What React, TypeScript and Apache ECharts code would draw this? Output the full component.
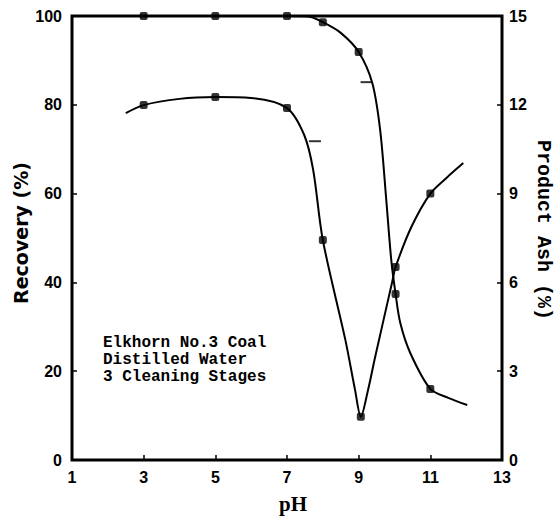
import React, { useEffect, useRef } from "react";
import * as echarts from "echarts";

// Recovery (%) curve, left axis
const recoveryLinePH = [2.5, 3, 5, 7, 7.6, 8, 8.5, 9, 9.38, 9.6, 9.77, 9.91, 10.03, 10.16, 10.44, 11, 11.5, 12.03];
const recoveryLineVal = [100, 100, 100, 100, 99.9, 98.6, 96.2, 91.9, 84.9, 74.3, 58.6, 45.0, 37.4, 30.9, 24.1, 16.0, 14.0, 12.4];
const recoveryPointPH = [3, 5, 7, 8, 9, 10.03, 11];
const recoveryPointVal = [100, 100, 100, 98.6, 91.9, 37.4, 16.0];

// Product ash (%) curve, right axis
const ashLinePH = [2.5, 3, 4, 5, 6, 7, 7.48, 7.73, 8, 8.63, 8.9, 9.06, 9.26, 9.46, 9.94, 10.03, 10.47, 11, 11.45, 11.92];
const ashLineVal = [11.72, 11.99, 12.2, 12.26, 12.23, 11.89, 10.98, 9.8, 7.43, 4.05, 2.36, 1.46, 2.36, 3.48, 6.04, 6.52, 7.87, 9.0, 9.53, 10.03];
const ashPointPH = [3, 5, 7, 8, 9.06, 10.03, 11];
const ashPointVal = [11.99, 12.26, 11.89, 7.43, 1.46, 6.52, 9.0];

// short dash marks (left-axis scale)
const dashPH = [7.78, 9.22];
const dashVal = [71.8, 85.1];

const annotation = ["Elkhorn No.3 Coal", "Distilled Water", "3 Cleaning Stages"];

const zip = (a: number[], b: number[]) => a.map((v, i) => [v, b[i]]);

export default function App() {
  const ref = useRef<HTMLDivElement>(null);
  useEffect(() => {
    if (!ref.current) return;
    const chart = echarts.init(ref.current, null, { renderer: "svg" });
    const labelFont = {
      color: "#000",
      fontFamily: "Liberation Sans",
      fontWeight: "bold" as const,
      fontSize: 16,
    };
    const tick = { show: true, inside: true, length: 5, lineStyle: { color: "#000", width: 1.5 } };
    const lineBase = {
      type: "line" as const,
      smooth: 0.3,
      showSymbol: false,
      lineStyle: { color: "#000", width: 2 },
      z: 3,
    };
    chart.setOption({
      animation: false,
      backgroundColor: "#fff",
      grid: {
        left: 72,
        right: 57,
        top: 16,
        bottom: 63,
        show: true,
        borderColor: "#000",
        borderWidth: 3,
        backgroundColor: "transparent",
      },
      xAxis: {
        type: "value",
        min: 1,
        max: 13,
        interval: 2,
        axisLine: { show: false },
        axisTick: tick,
        axisLabel: { ...labelFont, margin: 9 },
        splitLine: { show: false },
      },
      yAxis: [
        {
          type: "value",
          position: "left",
          min: 0,
          max: 100,
          interval: 20,
          axisLine: { show: false },
          axisTick: tick,
          axisLabel: { ...labelFont, margin: 10 },
          splitLine: { show: false },
        },
        {
          type: "value",
          position: "right",
          min: 0,
          max: 15,
          interval: 3,
          axisLine: { show: false },
          axisTick: tick,
          axisLabel: { ...labelFont, margin: 7 },
          splitLine: { show: false },
        },
      ],
      series: [
        {
          ...lineBase,
          name: "Recovery",
          yAxisIndex: 0,
          data: zip(recoveryLinePH, recoveryLineVal),
        },
        {
          ...lineBase,
          name: "Product Ash",
          yAxisIndex: 1,
          data: zip(ashLinePH, ashLineVal),
        },
        {
          name: "Recovery points",
          type: "scatter",
          yAxisIndex: 0,
          data: zip(recoveryPointPH, recoveryPointVal),
          symbol: "roundRect",
          symbolSize: 8,
          itemStyle: { color: "#000" },
          z: 4,
        },
        {
          name: "Ash points",
          type: "scatter",
          yAxisIndex: 1,
          data: zip(ashPointPH, ashPointVal),
          symbol: "roundRect",
          symbolSize: 8,
          itemStyle: { color: "#000" },
          z: 4,
        },
        {
          name: "Dashes",
          type: "scatter",
          yAxisIndex: 0,
          data: zip(dashPH, dashVal),
          symbol: "rect",
          symbolSize: [12, 2],
          itemStyle: { color: "#000" },
          z: 4,
        },
      ],
      graphic: [
        {
          type: "text",
          x: 21,
          y: 233,
          rotation: Math.PI / 2,
          style: {
            text: "Recovery (%)",
            font: 'bold 19px "DejaVu Sans"',
            fill: "#000",
            align: "center",
            verticalAlign: "middle",
          },
        },
        {
          type: "text",
          x: 543,
          y: 230,
          rotation: -Math.PI / 2,
          style: {
            text: "Product Ash (%)",
            font: 'bold 20px "Liberation Mono"',
            fill: "#000",
            align: "center",
            verticalAlign: "middle",
          },
        },
        {
          type: "text",
          x: 293,
          y: 504,
          style: {
            text: "pH",
            font: 'bold 21px "Liberation Serif"',
            fill: "#000",
            align: "center",
            verticalAlign: "middle",
          },
        },
        {
          type: "text",
          x: 103,
          y: 334,
          style: {
            text: annotation.join("\n"),
            font: 'bold 16px "Liberation Mono"',
            lineHeight: 17,
            fill: "#000",
            align: "left",
            verticalAlign: "top",
          },
        },
      ],
    });
    return () => chart.dispose();
  }, []);
  return (
    <div
      ref={ref}
      style={{ position: "fixed", left: 0, top: 0, width: 559, height: 523, background: "#fff" }}
    />
  );
}
